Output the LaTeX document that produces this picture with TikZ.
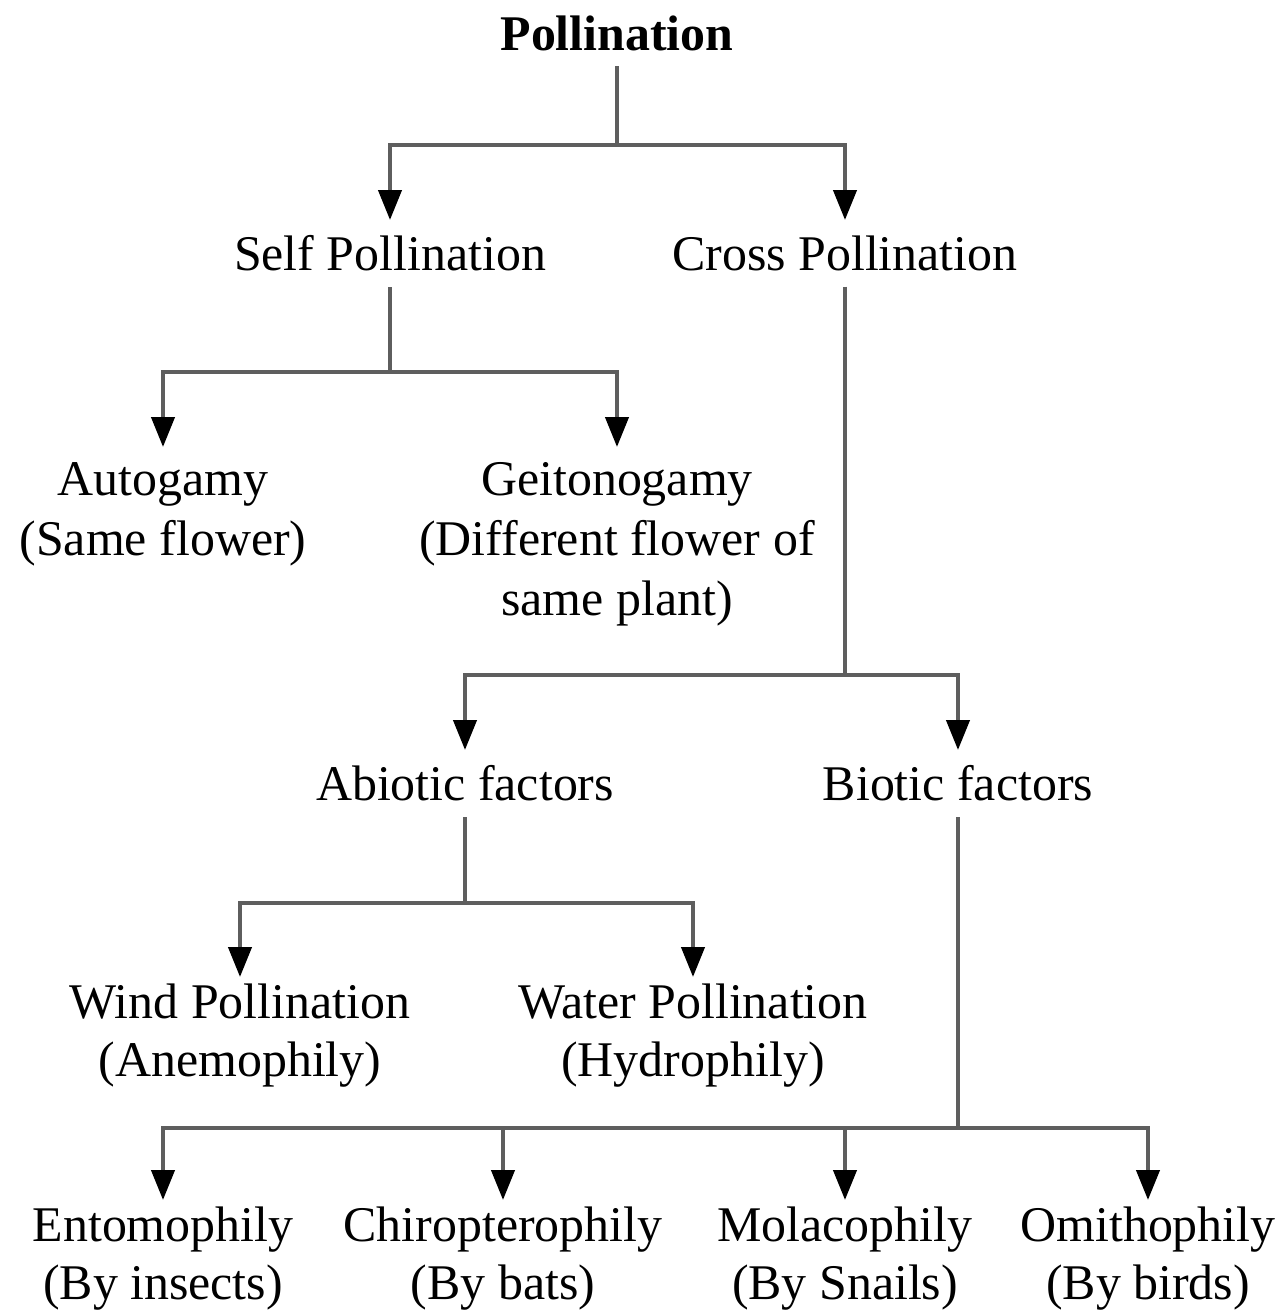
\documentclass[tikz,border=0pt]{standalone}
\usepackage{fontspec}
\setmainfont{Liberation Serif}
\usepackage{tikz}
\usetikzlibrary{arrows.meta, positioning}
\definecolor{linegray}{HTML}{5E5E5E}
\tikzset{
	termtext/.style={align=center, inner xsep=0pt, inner ysep=0.15cm, anchor=north, font=\fontsize{14.2pt}{17pt}\selectfont}
}
\tikzset{
	leaftext/.style={termtext, inner ysep=0.06cm, font=\fontsize{14.2pt}{16.6pt}\selectfont}
}
\tikzset{
	branchline/.style={draw=linegray, line width=1.2pt}
}
\tikzset{
	brancharrow/.style={branchline, -{Triangle[length=3mm, width=2.3mm, color=black]}}
}

\begin{document}
\begin{tikzpicture}
\useasboundingbox (0,0) rectangle (12.84,-13.15);

\node[font=\fontsize{14.2pt}{17pt}\selectfont\bfseries, inner sep=0.15cm] (pollination) at (6.17,-0.33) {Pollination};

\node[termtext] (self) at (3.90,-2.20) {Self Pollination};
\node[termtext] (cross) at (8.45,-2.20) {Cross Pollination};

\node[termtext] (autogamy) at (1.63,-4.47) {Autogamy\\(Same flower)};
\node[termtext] (geito) at (6.17,-4.47) {Geitonogamy\\(Different flower of\\same plant)};

\node[termtext] (abiotic) at (4.65,-7.50) {Abiotic factors};
\node[termtext] (biotic) at (9.58,-7.50) {Biotic factors};

\node[leaftext] (wind) at (2.40,-9.77) {Wind Pollination\\(Anemophily)};
\node[leaftext] (water) at (6.93,-9.77) {Water Pollination\\(Hydrophily)};

\node[leaftext] (ento) at (1.63,-12.00) {Entomophily\\(By insects)};
\node[leaftext] (chiro) at (5.03,-12.00) {Chiropterophily\\(By bats)};
\node[leaftext] (mola) at (8.45,-12.00) {Molacophily\\(By Snails)};
\node[leaftext] (omitho) at (11.48,-12.00) {Omithophily\\(By birds)};

% splitting points
\coordinate (s0) at (6.17,-1.45);
\coordinate (s1) at (3.90,-3.72);
\coordinate (s2) at (8.45,-6.75);
\coordinate (s3) at (4.65,-9.03);
\coordinate (s4) at (9.58,-11.28);

\draw[branchline] (pollination.south) -- (s0);
\draw[brancharrow] (s0) -| (self.north);
\draw[brancharrow] (s0) -| (cross.north);

\draw[branchline] (self.south) -- (s1);
\draw[brancharrow] (s1) -| (autogamy.north);
\draw[brancharrow] (s1) -| (geito.north);

\draw[branchline] (cross.south) -- (s2);
\draw[brancharrow] (s2) -| (abiotic.north);
\draw[brancharrow] (s2) -| (biotic.north);

\draw[branchline] (abiotic.south) -- (s3);
\draw[brancharrow] (s3) -| (wind.north);
\draw[brancharrow] (s3) -| (water.north);

\draw[branchline] (biotic.south) -- (s4);
\foreach \leaf in {ento, chiro, mola, omitho}
	\draw[brancharrow] (s4) -| (\leaf.north);

\end{tikzpicture}
\end{document}
